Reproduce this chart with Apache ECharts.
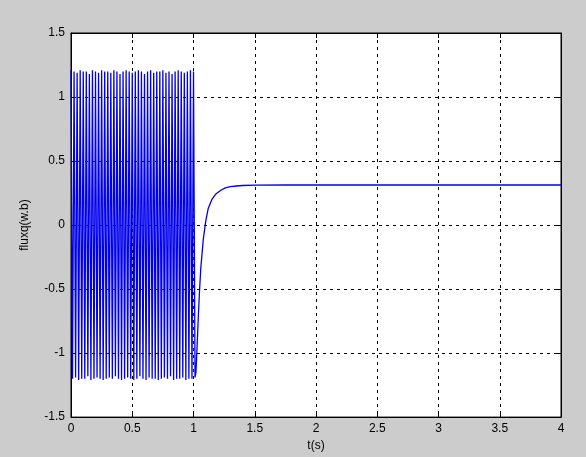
<!DOCTYPE html>
<html><head><meta charset="utf-8">
<script src="https://cdn.jsdelivr.net/npm/echarts@6/dist/echarts.min.js"></script>
<style>html,body{margin:0;padding:0;background:#cccccc;}#c{width:586px;height:457px;}</style>
</head><body><div id="c"></div>
<script>
// Oscillation phase (0 - 1 s): peak / trough samples
const oscTime = [0, 0.0125, 0.025, 0.0375, 0.05, 0.0625, 0.075, 0.0875, 0.1, 0.1125, 0.125, 0.1375, 0.15, 0.1625, 0.175, 0.1875, 0.2, 0.2125, 0.225, 0.2375, 0.25, 0.2625, 0.275, 0.2875, 0.3, 0.3125, 0.325, 0.3375, 0.35, 0.3625, 0.375, 0.3875, 0.4, 0.4125, 0.425, 0.4375, 0.45, 0.4625, 0.475, 0.4875, 0.5, 0.5125, 0.525, 0.5375, 0.55, 0.5625, 0.575, 0.5875, 0.6, 0.6125, 0.625, 0.6375, 0.65, 0.6625, 0.675, 0.6875, 0.7, 0.7125, 0.725, 0.7375, 0.75, 0.7625, 0.775, 0.7875, 0.8, 0.8125, 0.825, 0.8375, 0.85, 0.8625, 0.875, 0.8875, 0.9, 0.9125, 0.925, 0.9375, 0.95, 0.9625, 0.975, 0.9875, 1.0];
const oscFlux = [1.21, -1.2, 1.2, -1.19, 1.19, -1.21, 1.21, -1.2, 1.2, -1.2, 1.2, -1.18, 1.18, -1.21, 1.21, -1.2, 1.2, -1.19, 1.19, -1.2, 1.21, -1.21, 1.2, -1.2, 1.2, -1.19, 1.19, -1.2, 1.21, -1.18, 1.2, -1.2, 1.18, -1.21, 1.2, -1.2, 1.21, -1.19, 1.2, -1.2, 1.19, -1.21, 1.2, -1.2, 1.21, -1.18, 1.2, -1.2, 1.18, -1.21, 1.2, -1.19, 1.21, -1.2, 1.19, -1.2, 1.2, -1.21, 1.2, -1.2, 1.21, -1.19, 1.19, -1.2, 1.2, -1.18, 1.18, -1.21, 1.2, -1.2, 1.21, -1.2, 1.2, -1.19, 1.19, -1.21, 1.2, -1.2, 1.21, -1.2, 1.2];
// Settling phase (after 1 s)
const settleTime = [1.0125, 1.02, 1.03, 1.04, 1.05, 1.06, 1.08, 1.10, 1.12, 1.15, 1.18, 1.22, 1.26, 1.30, 1.35, 1.40, 1.50, 1.75, 2.0, 2.5, 3.0, 3.5, 4.0];
const settleFlux = [-1.19, -1.15, -0.93, -0.7, -0.5, -0.33, -0.11, 0.03, 0.13, 0.2, 0.24, 0.27, 0.29, 0.3, 0.305, 0.309, 0.312, 0.313, 0.313, 0.313, 0.313, 0.313, 0.313];
const xTicks = [0, 0.5, 1, 1.5, 2, 2.5, 3, 3.5, 4];
const yTicks = [-1.5, -1, -0.5, 0, 0.5, 1, 1.5];
const xLabel = 't(s)';
const yLabel = 'fluxq(w.b)';

const data = [];
oscTime.forEach((t, i) => data.push([t, oscFlux[i]]));
settleTime.forEach((t, i) => data.push([t, settleFlux[i]]));

const font = 'Liberation Sans, Arial, sans-serif';
const chart = echarts.init(document.getElementById('c'), null, {renderer: 'canvas'});
const fmt = v => String(v);
chart.setOption({
  animation: false,
  backgroundColor: '#cccccc',
  grid: {left: 71, right: 25, top: 33, bottom: 33, show: true, backgroundColor: '#ffffff', borderColor: '#000', borderWidth: 1},
  xAxis: [{
    type: 'value', min: xTicks[0], max: xTicks[xTicks.length - 1], interval: 0.5,
    name: xLabel, nameLocation: 'middle', nameGap: 21,
    nameTextStyle: {color: '#000', fontSize: 12, fontFamily: font},
    axisLine: {show: true, onZero: false, lineStyle: {color: '#000', width: 1}},
    axisTick: {show: true, inside: true, length: 5, lineStyle: {color: '#000'}},
    axisLabel: {color: '#000', fontSize: 12, fontFamily: font, margin: 6, formatter: fmt},
    splitLine: {show: true, lineStyle: {color: '#000', type: [3, 4], width: 1}}
  }, {
    type: 'value', position: 'top', min: 0, max: 4, interval: 0.5,
    axisLine: {show: true, onZero: false, lineStyle: {color: '#000'}},
    axisTick: {show: true, inside: true, length: 5, lineStyle: {color: '#000'}},
    axisLabel: {show: false}, splitLine: {show: false}
  }],
  yAxis: [{
    type: 'value', min: yTicks[0], max: yTicks[yTicks.length - 1], interval: 0.5,
    name: yLabel, nameLocation: 'middle', nameGap: 40, nameRotate: 90,
    nameTextStyle: {color: '#000', fontSize: 12, fontFamily: font},
    axisLine: {show: true, onZero: false, lineStyle: {color: '#000', width: 1}},
    axisTick: {show: true, inside: true, length: 5, lineStyle: {color: '#000'}},
    axisLabel: {color: '#000', fontSize: 12, fontFamily: font, margin: 6, formatter: fmt},
    splitLine: {show: true, lineStyle: {color: '#000', type: [3, 4], width: 1}}
  }, {
    type: 'value', position: 'right', min: -1.5, max: 1.5, interval: 0.5,
    axisLine: {show: true, onZero: false, lineStyle: {color: '#000'}},
    axisTick: {show: true, inside: true, length: 5, lineStyle: {color: '#000'}},
    axisLabel: {show: false}, splitLine: {show: false}
  }],
  series: [{
    type: 'line', data: data, showSymbol: false, symbol: 'none',
    lineStyle: {color: '#0000ee', width: 1.3}, itemStyle: {color: '#0000ee'}
  }]
});
</script></body></html>
